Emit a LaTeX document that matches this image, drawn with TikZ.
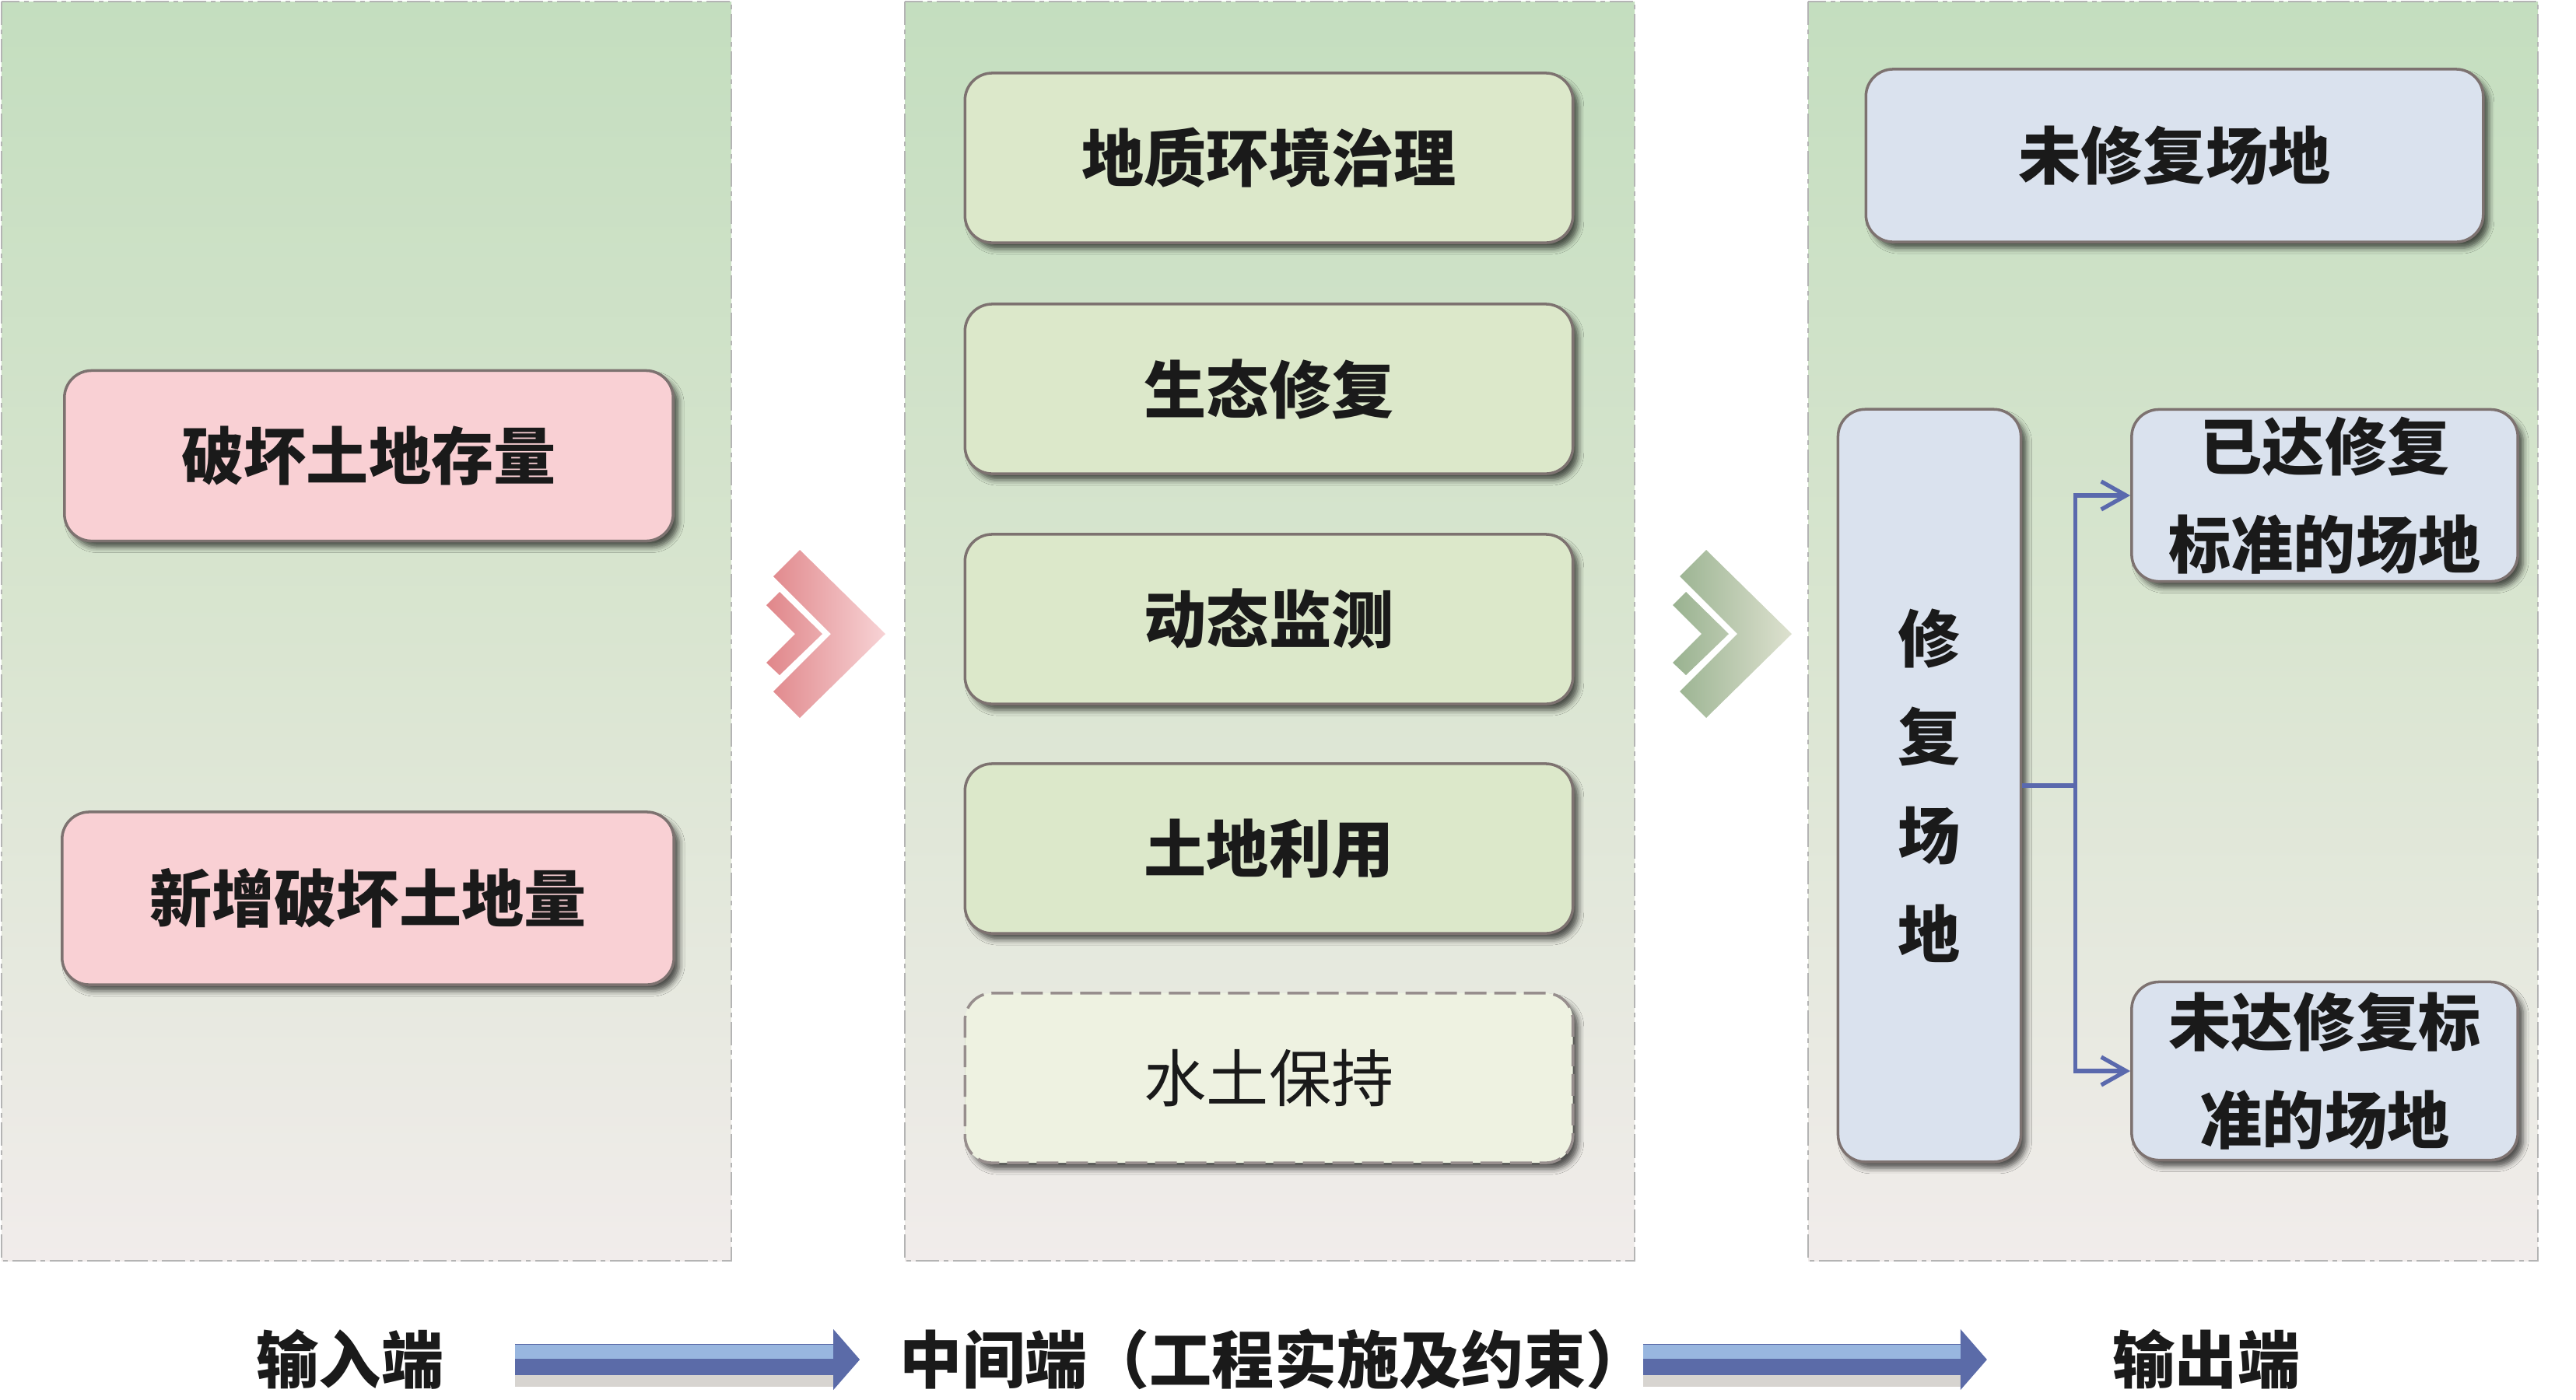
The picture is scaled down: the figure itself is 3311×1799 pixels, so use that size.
\documentclass[tikz,border=0pt]{standalone}
\usepackage{fontspec}
\setmainfont{Noto Sans CJK SC}
\usetikzlibrary{arrows.meta,shadows.blur}
\definecolor{panelLine}{HTML}{B4B4B4}
\definecolor{panelTop}{HTML}{C4DEBF}
\definecolor{panelMid}{HTML}{D9E5D0}
\definecolor{panelBot}{HTML}{F1ECEB}
\definecolor{boxLine}{HTML}{7D7270}
\definecolor{pinkFill}{HTML}{F9D0D4}
\definecolor{greenFill}{HTML}{DCE8CA}
\definecolor{paleFill}{HTML}{EEF2E1}
\definecolor{blueFill}{HTML}{DAE2EE}
\definecolor{linkBlue}{HTML}{5A69AD}
\definecolor{flowDark}{HTML}{5B6BA8}
\definecolor{flowLight}{HTML}{98B6DF}
\definecolor{pinkDark}{HTML}{E0868A}
\definecolor{pinkLight}{HTML}{F7D3D5}
\definecolor{sageDark}{HTML}{99B290}
\definecolor{sageLight}{HTML}{DDE1CF}
\definecolor{textDark}{HTML}{1A1A1A}

\begin{document}
\begin{tikzpicture}[x=0.01cm,y=-0.01cm,
  panel/.style={draw=panelLine,line width=0.8pt,dash pattern=on 0.3cm off 0.06cm on 0.06cm off 0.06cm,
    top color=panelTop,bottom color=panelBot,middle color=panelMid},
  box/.style={draw=boxLine,line width=1pt,rounded corners=0.35cm,inner sep=0pt,align=center,
    text=textDark,font=\bfseries\fontsize{22.8}{36}\selectfont,
    blur shadow={shadow xshift=0.07cm,shadow yshift=-0.08cm,shadow blur radius=0.07cm,shadow opacity=65}},
  wide/.style={box,minimum width=7.82cm,minimum height=2.19cm},
  link/.style={draw=linkBlue,line width=1.5pt},
  tip/.style={-{Straight Barb[length=0.32cm,width=0.36cm]}},
  endlabel/.style={inner sep=0pt,text=textDark,font=\bfseries\fontsize{22.8}{36}\selectfont},
  flow/.style 2 args={shorten <=#1,shorten >=#2,line width=0.4cm,draw=flowDark,
    -{Triangle[length=0.34cm,width=0.76cm]},
    preaction={draw=black!70!brown,opacity=0.2,line width=0.15cm,shorten >=#2+0.3cm,transform canvas={yshift=-0.27cm},-},
    postaction={draw=flowLight,line width=0.18cm,shorten >=#2+0.34cm,transform canvas={yshift=0.1cm},-}}]
\useasboundingbox (0,0) rectangle (3311,1799);

% three stages
\draw [panel] (2,2) rectangle (940,1621);
\draw [panel] (1163,2) rectangle (2101,1621);
\draw [panel] (2324,2) rectangle (3262,1621);

% input side
\node [wide,fill=pinkFill] (stock) at (474,586) {破坏土地存量};
\node [wide,fill=pinkFill,minimum width=7.86cm,minimum height=2.22cm] (newdmg) at (473,1155) {新增破坏土地量};

\shade [left color=pinkDark,right color=pinkLight] (994,741) -- (1028,707) -- (1138,815) -- (1028,923) -- (994,889) -- (1068,815) -- cycle
  (985,778) -- (1002,761) -- (1057,815) -- (1002,868) -- (985,852) -- (1022,815) -- cycle;

% middle side
\node [wide,fill=greenFill,minimum width=7.81cm,minimum height=2.18cm] (geo) at (1631,203) {地质环境治理};
\node [wide,fill=greenFill,minimum width=7.81cm,minimum height=2.18cm] (eco) at (1631,500) {生态修复};
\node [wide,fill=greenFill,minimum width=7.81cm,minimum height=2.18cm] (monitor) at (1631,796) {动态监测};
\node [wide,fill=greenFill,minimum width=7.81cm,minimum height=2.18cm] (landuse) at (1631,1091) {土地利用};
\node [wide,fill=paleFill,minimum width=7.81cm,minimum height=2.18cm,draw=boxLine!80,dash pattern=on 0.28cm off 0.1cm,
  font=\fontsize{22.8}{36}\selectfont] (soilwater) at (1631,1386) {水土保持};

\shade [left color=sageDark,right color=sageLight] (2159,741) -- (2193,707) -- (2303,815) -- (2193,923) -- (2159,889) -- (2233,815) -- cycle
  (2150,778) -- (2167,761) -- (2222,815) -- (2167,868) -- (2150,852) -- (2187,815) -- cycle;

% output side
\node [wide,fill=blueFill,minimum width=7.93cm,minimum height=2.22cm] (unrepaired) at (2795,200) {未修复场地};
\node [box,fill=blueFill,minimum width=2.35cm,minimum height=9.67cm] (repaired) at (2480,1010) {修\\复\\场\\地};
\node [box,fill=blueFill,minimum width=4.96cm,minimum height=2.21cm] (reached) at (2988,637) {已达修复\\标准的场地};
\node [box,fill=blueFill,minimum width=4.96cm,minimum height=2.29cm] (notreached) at (2988,1377) {未达修复标\\准的场地};

\draw [link] (repaired.east) -- ++(68,0) coordinate (fork);
\draw [link,tip] (fork) |- (reached.west);
\draw [link,tip] (fork) |- (notreached.west);

% bottom line
\node [endlabel] (inLbl) at (450,1748) {输入端};
\node [endlabel] (midLbl) at (1638,1748) {中间端（工程实施及约束）};
\node [endlabel] (outLbl) at (2836,1748) {输出端};
\draw [flow={0.91cm}{0.51cm}] (inLbl.east) -- (midLbl.west);
\draw [flow={-0.08cm}{1.61cm}] (midLbl.east) -- (outLbl.west);
\end{tikzpicture}
\end{document}
